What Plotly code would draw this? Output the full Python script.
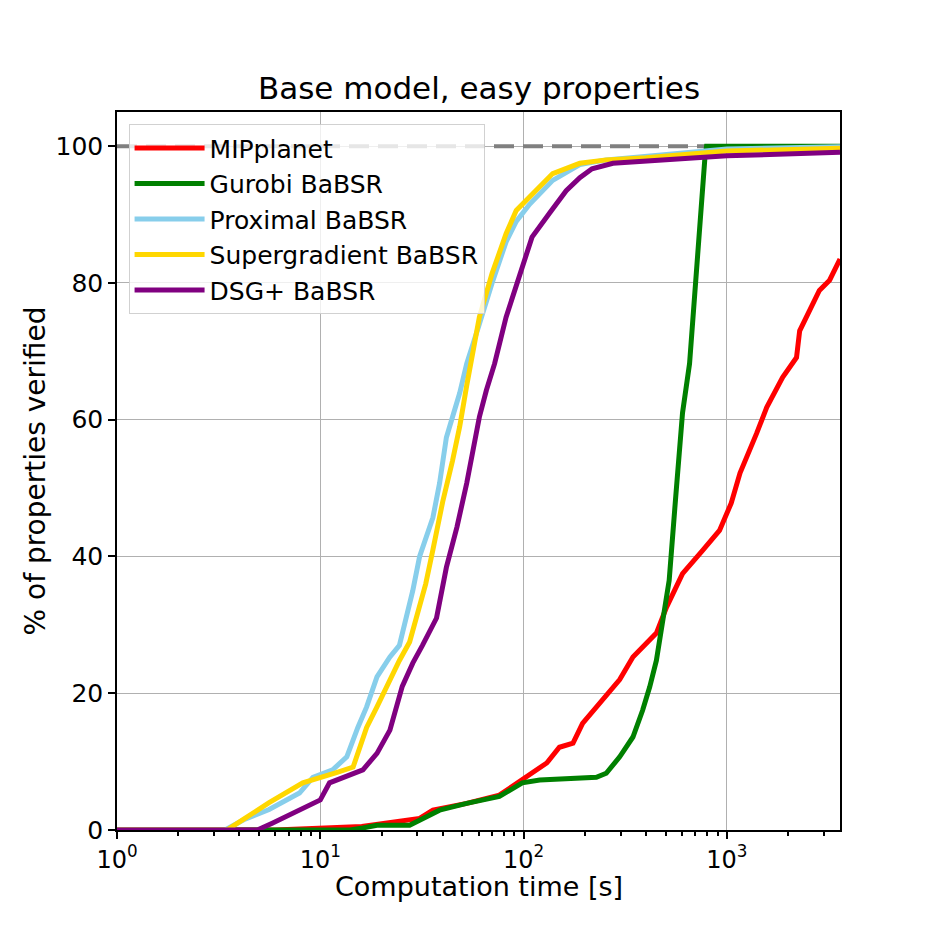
import plotly.graph_objects as go

# ---- data ----
mip_t = [1, 6, 16, 22, 30.8, 35.8, 52.5, 76, 103, 110, 130, 150, 175, 195, 228, 264, 297, 345, 400, 450, 505,
         605, 760, 920, 1050, 1160, 1400, 1570, 1880, 2200, 2280, 2650, 2850, 3200, 3600]
mip_p = [0, 0, 0.5, 1, 1.7, 2.9, 3.9, 5.1, 7.8, 8.5, 9.8, 12.1, 12.7, 15.6, 18, 20, 22, 25.3, 27.3, 28.8, 32.6,
         37.5, 40.9, 43.8, 47.8, 52.2, 58, 61.8, 66.2, 69.1, 73, 77, 78.9, 80.4, 83.5]

gur_t = [1, 14, 16.2, 19, 27.5, 35.8, 38.6, 52.5, 76, 98.5, 120, 228, 255, 297, 345, 385, 417, 450, 483, 520,
         560, 605, 655, 700, 752, 780, 794, 3600]
gur_p = [0, 0, 0.3, 0.7, 0.7, 2.5, 2.9, 3.9, 4.9, 6.9, 7.3, 7.7, 8.3, 10.7, 13.6, 17.5, 20.9, 24.8, 30.2, 36.5,
         48.7, 61, 68.2, 80.4, 91.6, 98.4, 100, 100]

prox_t = [1, 3.4, 4.2, 5.6, 7.9, 9.2, 11.5, 13.5, 15.3, 16.9, 19, 22, 24.5, 26.5, 28.5, 30.8, 35.8, 38.6, 41.7,
          44.7, 48.5, 52.5, 56, 60.6, 70, 82, 92, 107, 139, 189, 255, 400, 677, 1000, 3600]
prox_p = [0, 0, 1.5, 3, 5.4, 7.7, 8.8, 10.7, 15, 18, 22.4, 25.3, 27, 31, 35, 40, 45.7, 50.7, 57.4,
          60.4, 63.9, 68.2, 71, 74, 80, 86, 89, 91.5, 95, 97.3, 98, 98.5, 99, 99.6, 99.9]

sg_t = [1, 3.47, 4.2, 5.6, 8.2, 10, 12, 14.5, 16.9, 19, 22, 24.5, 27.5, 29.6, 33, 35.8, 40, 44.7, 48.5, 52.5,
        56, 60.6, 70, 82, 92, 107, 139, 189, 255, 400, 700, 1000, 3600]
sg_p = [0, 0, 1.6, 4, 6.9, 7.6, 8.4, 9.2, 15, 18, 22, 24.8, 27.5, 31, 36, 41, 48, 54, 59, 65,
        69.5, 75, 81.4, 87.2, 90.6, 92.5, 96, 97.5, 98, 98.3, 98.8, 99.3, 99.7]

dsg_t = [1, 4.9, 5.8, 6.8, 8.6, 10, 11.1, 13.5, 16.2, 19, 22, 25.3, 28.5, 31.8, 37.3, 41.7, 47, 52.5, 56, 60.6,
         65.6, 72, 82, 95.5, 110, 134, 162, 189, 217, 275, 400, 700, 1000, 3600]
dsg_p = [0, 0, 1, 2, 3.4, 4.4, 6.9, 7.8, 8.8, 11.2, 14.6, 21, 24.4, 27, 31, 38.4, 44.3, 50.7, 55.5, 60.4,
         64.3, 68.2, 75, 80.8, 86.7, 90.2, 93.5, 95.4, 96.7, 97.5, 97.8, 98.4, 98.6, 99.1]

time_limits = [1, 3600]
total_pct = 100
x_tickvals = [1, 10, 100, 1000]
x_ticktext = ["10<sup>0</sup>", "10<sup>1</sup>", "10<sup>2</sup>", "10<sup>3</sup>"]
x_minor = [2, 3, 4, 5, 6, 7, 8, 9, 20, 30, 40, 50, 60, 70, 80, 90,
           200, 300, 400, 500, 600, 700, 800, 900, 2000, 3000]
y_tickvals = [0, 20, 40, 60, 80, 100]

series = [
    ("MIPplanet", mip_t, mip_p, "#ff0000"),
    ("Gurobi BaBSR", gur_t, gur_p, "#008000"),
    ("Proximal BaBSR", prox_t, prox_p, "#87ceeb"),
    ("Supergradient BaBSR", sg_t, sg_p, "#ffd700"),
    ("DSG+ BaBSR", dsg_t, dsg_p, "#800080"),
]

fig = go.Figure()
fig.add_trace(go.Scatter(x=time_limits, y=[total_pct, total_pct], mode="lines",
                         line=dict(color="#808080", width=4, dash="20px,9px"),
                         showlegend=False, hoverinfo="skip"))
for name, t, p, c in series:
    fig.add_trace(go.Scatter(x=t, y=p, mode="lines", name=name,
                             line=dict(color=c, width=5)))

W = 918
font = "DejaVu Sans, Arial, sans-serif"
fig.update_layout(
    width=W, height=W,
    margin=dict(l=109, r=86, t=104, b=96),
    paper_bgcolor="white", plot_bgcolor="white",
    font=dict(family=font, color="black", size=24),
    title=dict(text="Base model, easy properties", x=(479 - 8) / W, xanchor="center",
               y=1 - (88 - 8) / W, yanchor="middle", font=dict(size=31, family=font)),
    legend=dict(x=0.016, y=0.983, xanchor="left", yanchor="top",
                bgcolor="rgba(255,255,255,0.8)", bordercolor="rgba(204,204,204,0.9)", borderwidth=1,
                font=dict(size=25, family=font), tracegroupgap=0, itemwidth=70),
    showlegend=True,
    annotations=[dict(text="Computation time [s]", xref="paper", yref="paper", x=0.5, y=-56 / 718,
                      xanchor="center", yanchor="middle", showarrow=False, font=dict(size=27, family=font))],
)
fig.update_xaxes(type="log", range=[0, 3.5563], tickvals=x_tickvals, ticktext=x_ticktext,
                 showgrid=True, gridcolor="#b0b0b0", gridwidth=1,
                 showline=True, linecolor="black", linewidth=1.5, mirror=True,
                 ticks="outside", ticklen=7, tickwidth=1.5, tickcolor="black",
                 minor=dict(ticks="outside", ticklen=4, tickcolor="black", showgrid=False, tickvals=x_minor),
                 tickfont=dict(size=24), zeroline=False)
fig.update_yaxes(range=[0, 105], tickvals=y_tickvals,
                 showgrid=True, gridcolor="#b0b0b0", gridwidth=1,
                 showline=True, linecolor="black", linewidth=1.5, mirror=True,
                 ticks="outside", ticklen=7, tickwidth=1.5, tickcolor="black",
                 tickfont=dict(size=25), title=dict(text="% of properties verified", font=dict(size=28), standoff=2),
                 zeroline=False)

fig.write_html("out.html")
